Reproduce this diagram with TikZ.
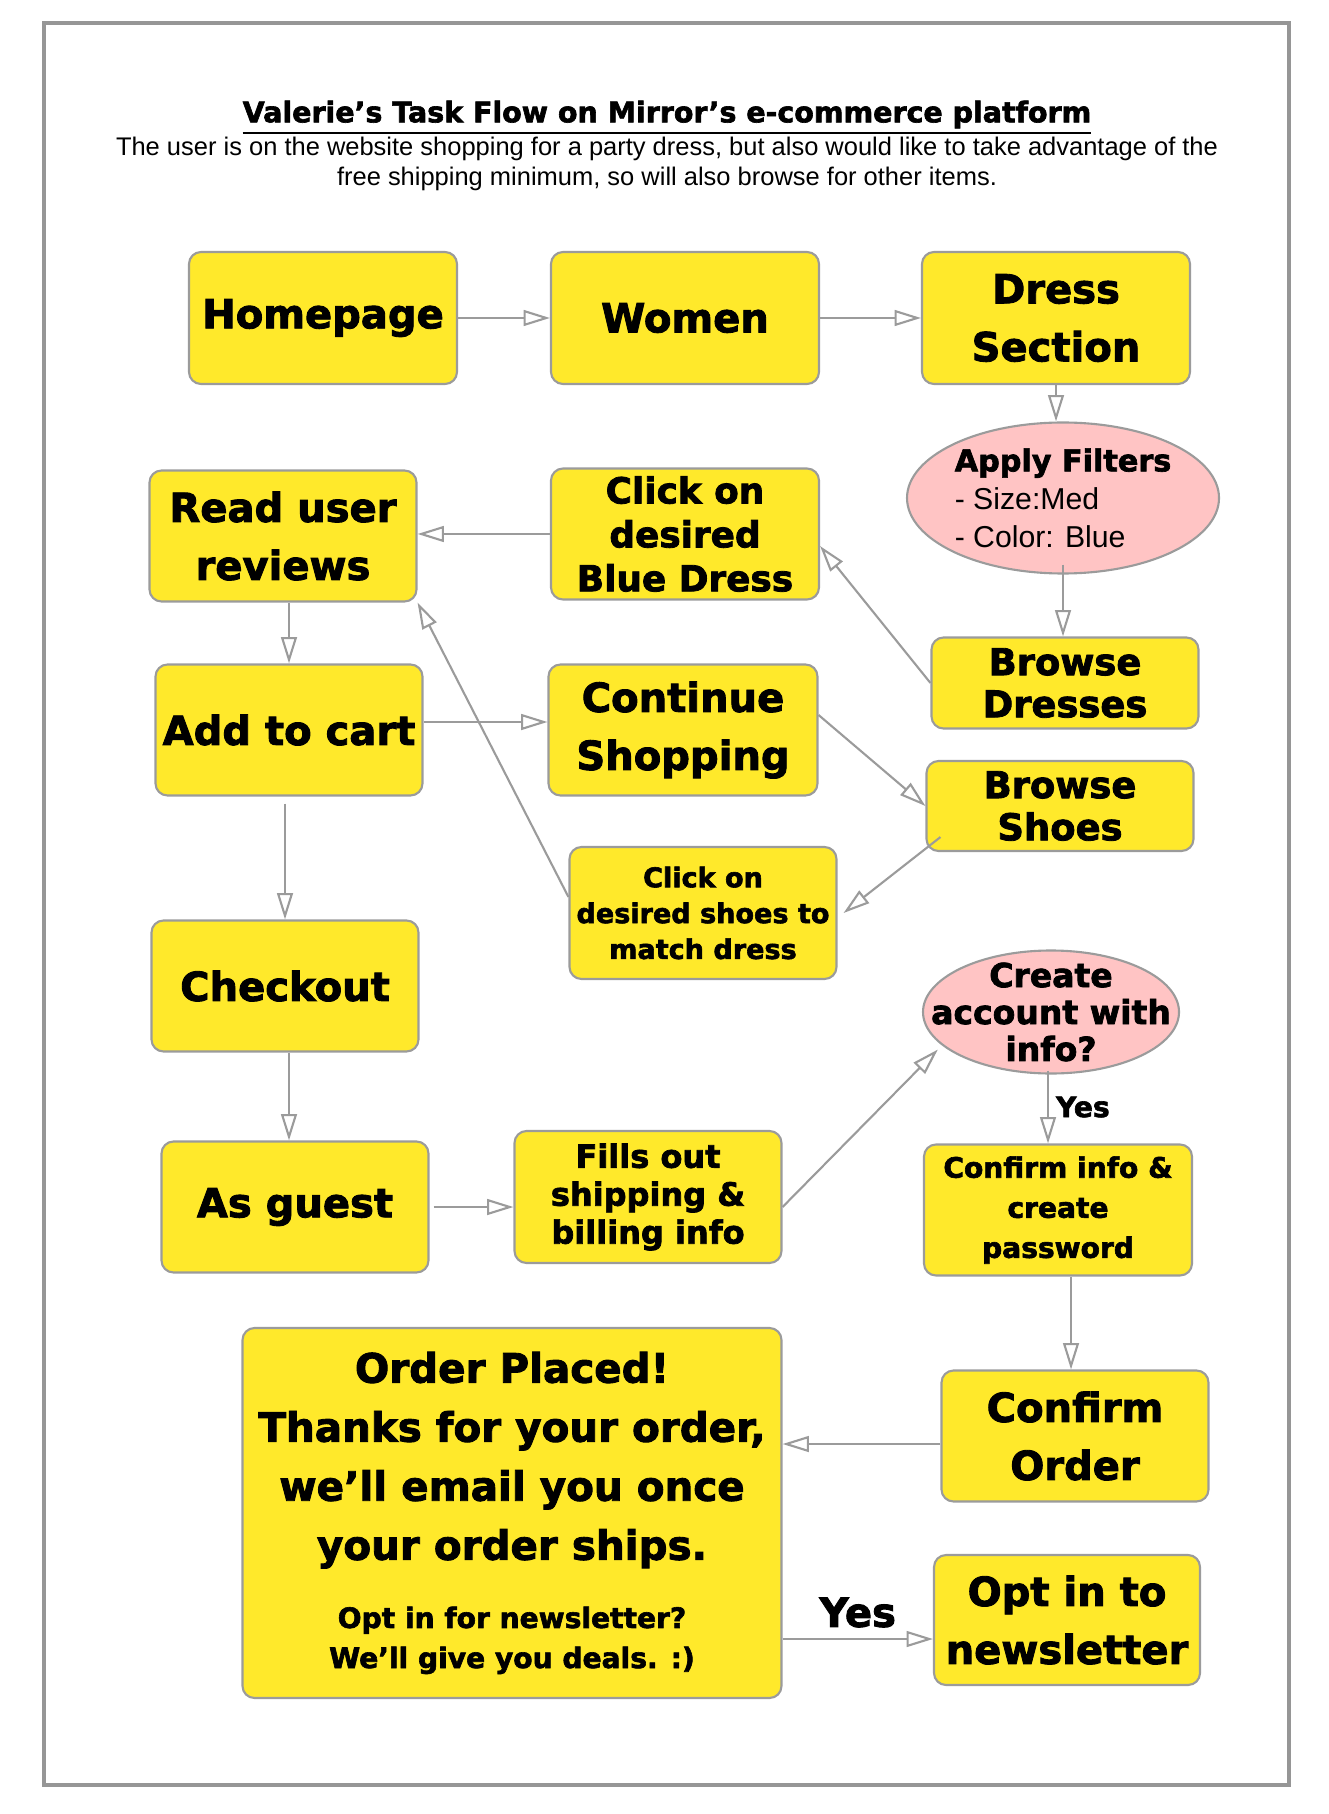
\documentclass[tikz,border=0pt]{standalone}
\usepackage{fontspec}
\setmainfont{DejaVu Sans}[BoldFeatures={FakeBold=2.2}]
\newfontfamily\arialfont{Liberation Sans}
\usetikzlibrary{shapes.geometric, arrows.meta, positioning}

\definecolor{boxyellow}{RGB}{255,233,43}
\definecolor{choicepink}{RGB}{255,196,196}
\definecolor{linegray}{RGB}{155,155,155}
\definecolor{framegray}{RGB}{150,150,150}

\begin{document}
\begin{tikzpicture}[
    pagebox/.style={rectangle, rounded corners=0.12cm, draw=linegray, line width=0.6pt, fill=boxyellow, align=center, inner sep=1pt, minimum width=2.67cm, minimum height=1.31cm, font=\fontsize{11.4}{16.5}\selectfont\bfseries},
    choice/.style={ellipse, draw=linegray, line width=0.6pt, fill=choicepink, align=center, inner sep=-1cm},
    flow/.style={draw=linegray, line width=0.6pt, -{Triangle[open, length=7.5pt, width=4.5pt]}},
    yeslbl/.style={font=\fontsize{8}{9}\selectfont\bfseries, inner sep=2pt},
    framebox/.style={draw=framegray, line width=1pt}
]
\useasboundingbox (0,0) rectangle (13.28,-18.14);
\draw [framebox] (0.44,-0.23) rectangle (12.89,-17.85);

% --- Heading ---
\node (title) at (6.67,-1.18) {\fontsize{8.1}{10}\selectfont\bfseries\underline{Valerie’s Task Flow on Mirror’s e-commerce platform}};
\node (subtitle) at (6.67,-1.64) [align=center, font=\arialfont\fontsize{7.25}{8.3}\selectfont] {The user is on the website shopping for a party dress, but also would like to take advantage of the\\ free shipping minimum, so will also browse for other items.};

% --- Nodes ---
% Top row
\node (home) at (3.23,-3.18) [pagebox, minimum width=2.68cm, minimum height=1.32cm] {Homepage};
\node (women) at (6.85,-3.18) [pagebox, minimum width=2.68cm, minimum height=1.32cm] {Women};
\node (dress) at (10.56,-3.18) [pagebox, minimum width=2.68cm, minimum height=1.32cm] {Dress\\ Section};

% Dress search
\node (filters) at (10.63,-4.98) [choice, minimum width=3.12cm, minimum height=1.51cm, align=left, font=\fontsize{8.6}{10.8}\selectfont] {\textbf{Apply Filters}\\ {\arialfont - Size:Med}\\ {\arialfont - Color: Blue}};
\node (dresses) at (10.65,-6.83) [pagebox, minimum height=0.91cm, font=\fontsize{10.5}{12}\selectfont\bfseries] {Browse\\ Dresses};
\node (bluedress) at (6.85,-5.34) [pagebox, minimum width=2.68cm, font=\fontsize{10.2}{12.5}\selectfont\bfseries] {Click on\\ desired\\ Blue Dress};
\node (reviews) at (2.83,-5.36) [pagebox] {Read user\\ reviews};

% Cart and shoes
\node (addcart) at (2.89,-7.30) [pagebox] {Add to cart};
\node (continue) at (6.83,-7.30) [pagebox, minimum width=2.69cm] {Continue\\ Shopping};
\node (shoes) at (10.60,-8.06) [pagebox, minimum height=0.90cm, font=\fontsize{10.5}{12}\selectfont\bfseries] {Browse\\ Shoes};
\node (clickshoes) at (7.03,-9.13) [pagebox, minimum height=1.32cm, font=\fontsize{7.7}{10.2}\selectfont\bfseries] {Click on\\ desired shoes to\\ match dress};

% Checkout
\node (checkout) at (2.85,-9.86) [pagebox] {Checkout};
\node (guest) at (2.95,-12.07) [pagebox] {As guest};
\node (fills) at (6.48,-11.97) [pagebox, minimum height=1.32cm, font=\fontsize{9.1}{10.8}\selectfont\bfseries] {Fills out\\ shipping \&\\ billing info};
\node (create) at (10.51,-10.12) [choice, minimum width=2.56cm, minimum height=1.23cm, font=\fontsize{9.4}{10.5}\selectfont\bfseries] {Create\\ account with\\ info?};
\node (confirminfo) at (10.58,-12.10) [pagebox, minimum width=2.68cm, font=\fontsize{8}{11.4}\selectfont\bfseries] {Confirm info \&\\ create\\ password};
\node (confirmorder) at (10.75,-14.36) [pagebox] {Confirm\\ Order};
\node (order) at (5.12,-15.13) [pagebox, minimum width=5.39cm, minimum height=3.70cm, font=\fontsize{11.5}{16.8}\selectfont\bfseries] {Order Placed!\\ Thanks for your order,\\ we’ll email you once\\ your order ships.\\[2.6pt]
  {\fontsize{8}{16.8}\selectfont Opt in for newsletter?}\\[-5.4pt]
  {\fontsize{8}{16.8}\selectfont We’ll give you deals. :)}};
\node (optin) at (10.67,-16.20) [pagebox, minimum width=2.66cm, minimum height=1.30cm] {Opt in to\\ newsletter};

% --- Edges ---
\draw [flow] (home) -- (women);
\draw [flow] (women) -- (dress);
\draw [flow] (dress.south) -- (dress.south |- filters.north);
\draw [flow] ([yshift=0.1cm]filters.south) -- (filters.south |- dresses.north);
\draw [flow] (dresses.west) -- ([yshift=-0.12cm]bluedress.east);
\draw [flow] (bluedress.west) -- (bluedress.west -| reviews.east);
\draw [flow] (addcart.north |- reviews.south) -- (addcart.north);

% Shopping loop
\draw [flow] ([yshift=0.08cm]addcart.east) -- ([yshift=0.08cm]continue.west);
\draw [flow] ([yshift=0.15cm]continue.east) -- (shoes.west);
\draw [flow] ([shift={(0.15,0.15)}]shoes.south west) -- ([xshift=0.06cm]clickshoes.east);
\draw [flow] ([yshift=0.16cm]clickshoes.west) -- (reviews.south east);

% Checkout flow
\draw [flow] ([yshift=-0.07cm]checkout.north |- addcart.south) -- (checkout.north);
\draw [flow] ([xshift=0.04cm]checkout.south) -- ([xshift=0.04cm]checkout.south |- guest.north);
\draw [flow] ([xshift=0.04cm]guest.east) -- (fills.west |- guest.east);
\draw [flow] ([yshift=-0.1cm]fills.east) -- ([xshift=-0.1cm]create.200);
\draw [flow] ([xshift=-0.03cm,yshift=0.04cm]create.south) -- ([xshift=-0.03cm]create.south |- confirminfo.north) node [yeslbl, midway, right] {Yes};
\draw [flow] ([xshift=-0.04cm]confirmorder.north |- confirminfo.south) -- ([xshift=-0.04cm]confirmorder.north);
\draw [flow] ([yshift=-0.08cm]confirmorder.west) -- ([yshift=-0.08cm]confirmorder.west -| order.east);
\draw [flow] ([yshift=-0.19cm]optin.west -| order.east) -- ([yshift=-0.19cm]optin.west) node [midway, above, font=\fontsize{11.4}{13}\selectfont\bfseries, inner sep=3pt] {Yes};

\end{tikzpicture}
\end{document}
